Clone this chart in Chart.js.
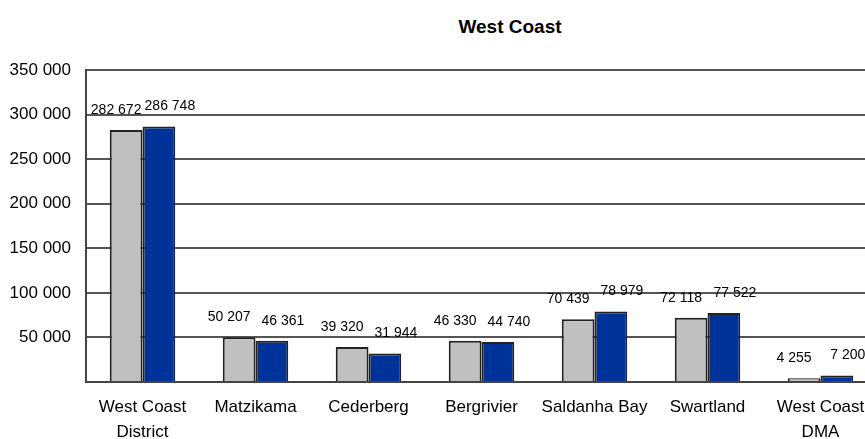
<!DOCTYPE html>
<html>
<head>
<meta charset="utf-8">
<title>West Coast</title>
<script src="https://cdn.jsdelivr.net/npm/chart.js@4"></script>
<style>
  body { margin: 0; background: #fff; overflow: hidden; }
  #wrap { position: relative; width: 880px; height: 439px; }
  #title {
    position: absolute; left: 0; top: 16px; width: 1020px; text-align: center;
    font: bold 19px "Liberation Sans", Arial, sans-serif; color: #000;
  }
  canvas { position: absolute; left: 0; top: 0; }
</style>
</head>
<body>
<div id="wrap">
  <div id="title">West Coast</div>
  <canvas id="chart" width="880" height="439"></canvas>
</div>
<script>
// Data
const categories = [['West Coast', 'District'], 'Matzikama', 'Cederberg', 'Bergrivier', 'Saldanha Bay', 'Swartland', ['West Coast', 'DMA']];
const series1 = [282672, 50207, 39320, 46330, 70439, 72118, 4255];
const series2 = [286748, 46361, 31944, 44740, 78979, 77522, 7200];
const yTicks = [0, 50000, 100000, 150000, 200000, 250000, 300000, 350000];

const fontFamily = '"Liberation Sans", Arial, sans-serif';

function fmt(v) {
  return String(v).replace(/\B(?=(\d{3})+(?!\d))/g, ' ');
}

// value labels above each bar
const valueLabels = {
  id: 'valueLabels',
  afterDatasetsDraw(chart) {
    const ctx = chart.ctx;
    ctx.save();
    ctx.font = '14px ' + fontFamily;
    ctx.fillStyle = '#000';
    ctx.textAlign = 'center';
    ctx.textBaseline = 'middle';
    chart.data.datasets.forEach((ds, i) => {
      const dx = i === 0 ? -10 : 11;
      chart.getDatasetMeta(i).data.forEach((bar, j) => {
        ctx.fillText(fmt(ds.data[j]), bar.x + dx, bar.y - 20);
      });
    });
    ctx.restore();
  }
};

const ctx = document.getElementById('chart').getContext('2d');
new Chart(ctx, {
  type: 'bar',
  data: {
    labels: categories,
    datasets: [{
      label: 'Series 1',
      data: series1,
      backgroundColor: '#c0c0c0',
      borderColor: '#222',
      borderWidth: 2
    }, {
      label: 'Series 2',
      data: series2,
      backgroundColor: '#003399',
      borderColor: '#222',
      borderWidth: 2
    }]
  },
  options: {
    responsive: false,
    animation: false,
    layout: { padding: { top: 70, right: 3, left: 0, bottom: 0 } },
    datasets: { bar: { barPercentage: 1, categoryPercentage: 0.58 } },
    plugins: {
      legend: { display: false },
      tooltip: { enabled: false }
    },
    scales: {
      x: {
        grid: { display: false },
        border: { display: true, color: '#444', width: 2 },
        ticks: {
          color: '#000',
          padding: 5,
          maxRotation: 0,
          autoSkip: false,
          font: { family: fontFamily, size: 17, lineHeight: 1.47 }
        },
        afterFit(scale) { scale.height = 57; }
      },
      y: {
        min: 0,
        max: 350000,
        afterBuildTicks(scale) { scale.ticks = yTicks.map(v => ({ value: v })); },
        grid: { color: '#555', lineWidth: 2, drawTicks: false },
        border: { display: true, color: '#444', width: 2 },
        ticks: {
          color: '#000',
          padding: 15,
          font: { family: fontFamily, size: 17 },
          callback: v => v === 0 ? '' : fmt(v)
        },
        afterFit(scale) { scale.width = 86; }
      }
    }
  },
  plugins: [valueLabels]
});
</script>
</body>
</html>
